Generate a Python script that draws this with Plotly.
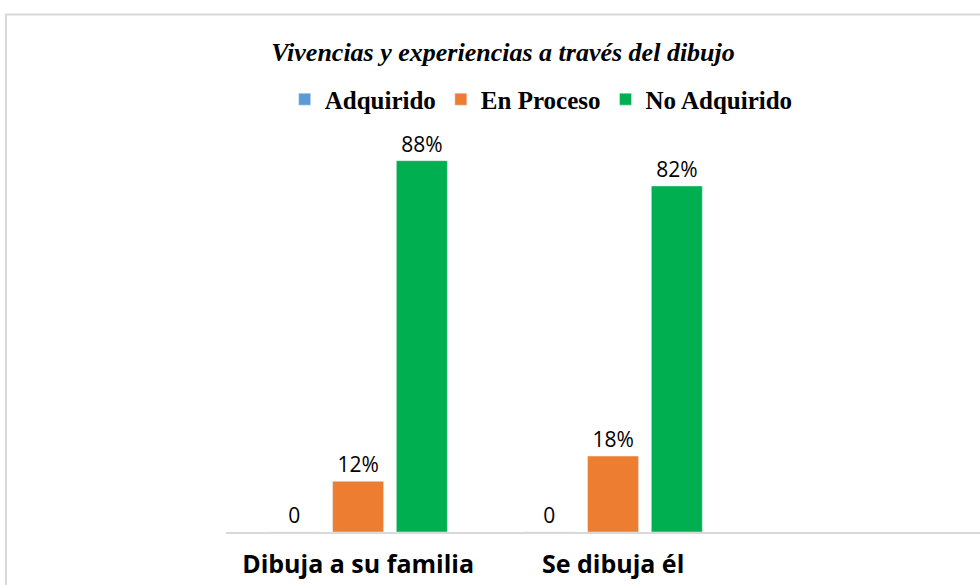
import plotly.graph_objects as go

categories = ["Dibuja a su familia", "Se dibuja él"]
series_names = ["Adquirido", "En Proceso", "No Adquirido"]
adquirido = [0, 0]
en_proceso = [12, 18]
no_adquirido = [88, 82]
labels_adquirido = ["0", "0"]
labels_en_proceso = ["12%", "18%"]
labels_no_adquirido = ["88%", "82%"]
colors = ["#5B9BD5", "#ED7D31", "#00B050"]

xpos = list(range(len(categories)))
fig = go.Figure()
for name, vals, labs, col in zip(series_names,
                                 [adquirido, en_proceso, no_adquirido],
                                 [labels_adquirido, labels_en_proceso, labels_no_adquirido],
                                 colors):
    fig.add_trace(go.Bar(
        x=xpos, y=vals, name="<b>%s</b>" % name, marker_color=col,
        text=labs, textposition="outside", cliponaxis=False,
        textfont=dict(family="Open Sans, Liberation Sans", size=21, color="#000000"),
    ))

L, R, T, B = 226, 0, 110.4, 53
fig.update_layout(
    width=980, height=585,
    margin=dict(l=L, r=R, t=T, b=B),
    paper_bgcolor="white", plot_bgcolor="white",
    barmode="group", bargap=0.25, bargroupgap=0.2,
    title=dict(text="<b><i>Vivencias y experiencias a través del dibujo</i></b>",
               x=503 / 980, xanchor="center", y=1 - 52 / 585, yanchor="middle",
               font=dict(family="Liberation Serif", size=26, color="#000000")),
    legend=dict(orientation="h", x=0.418, xanchor="center", y=1.025, yanchor="middle",
                font=dict(family="Liberation Serif", size=25, color="#000000"),
                itemwidth=30, tracegroupgap=0),
    showlegend=True,
)
fig.update_xaxes(
    tickmode="array", tickvals=xpos,
    ticktext=["<b>%s</b>" % c for c in categories],
    range=[-0.518, 2.439],
    showline=True, linecolor="#D9D9D9", linewidth=2,
    showgrid=False, zeroline=False, ticks="",
    ticklabelstandoff=9,
    tickfont=dict(family="Open Sans, Liberation Sans", size=25, color="#000000"),
)
fig.update_yaxes(range=[0, 100], visible=False, showgrid=False, zeroline=False)

# outer chart border
pw = 980 - L - R
ph = 585 - T - B
fig.add_shape(type="rect", xref="paper", yref="paper",
              x0=(6 - L) / pw, x1=(1000 - L) / pw,
              y0=(ph + T - 600) / ph, y1=(ph + T - 15) / ph,
              line=dict(color="#D9D9D9", width=2), fillcolor="rgba(0,0,0,0)", layer="below")

fig.write_html("out.html", config={"displayModeBar": False},
               post_script="document.body.style.margin='0';document.body.style.overflow='hidden';")
